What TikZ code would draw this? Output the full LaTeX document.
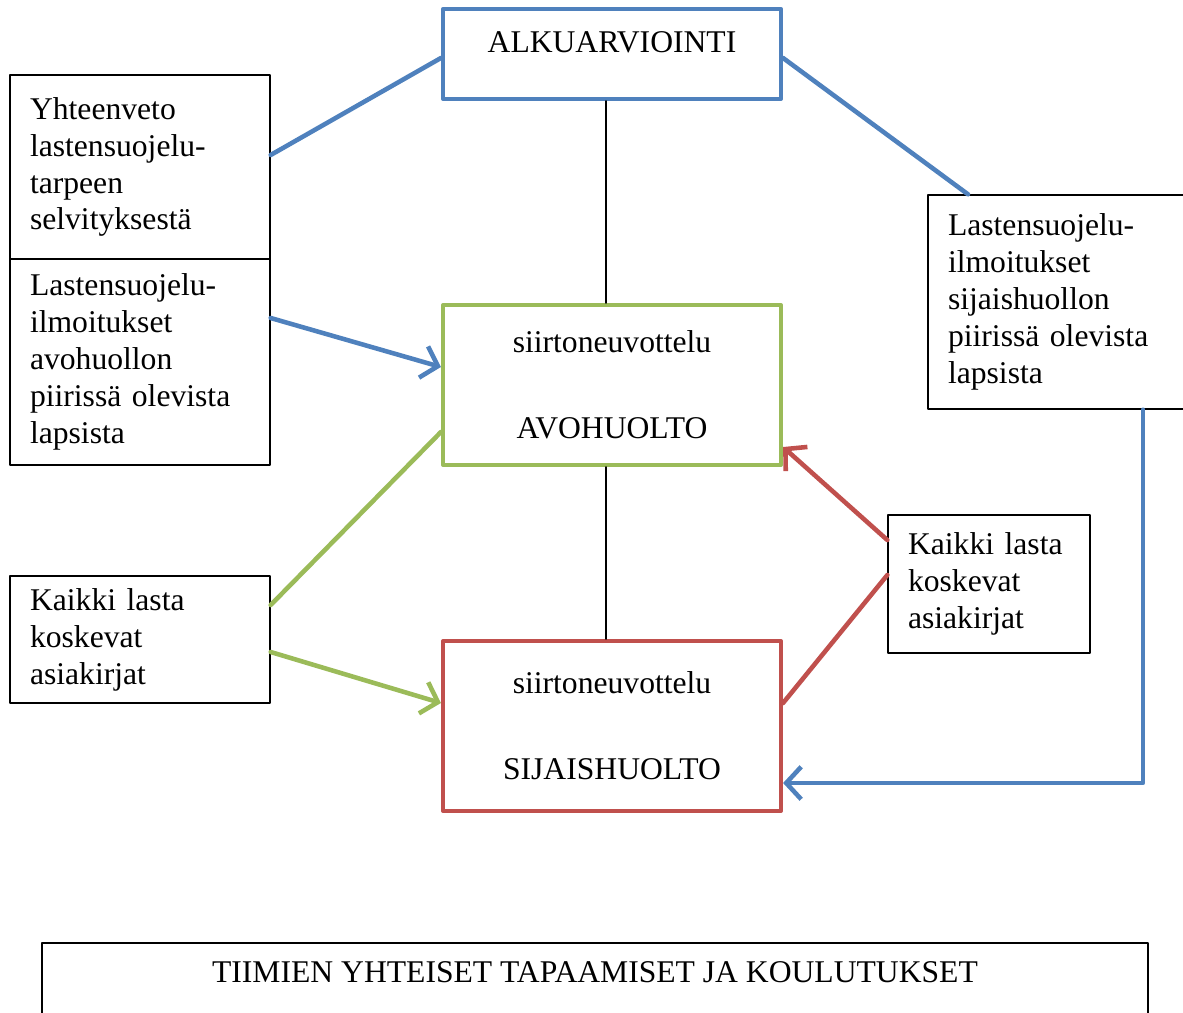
\documentclass[tikz,border=0pt]{standalone}
\usepackage{fontspec}
\setmainfont{Liberation Serif}
\usetikzlibrary{arrows.meta}
\definecolor{sininen}{HTML}{4F81BD}
\definecolor{vihrea}{HTML}{9BBB59}
\definecolor{punainen}{HTML}{C0504D}
\begin{document}
\begin{tikzpicture}[x=0.02cm, y=-0.02cm, font=\fontsize{18}{21}\selectfont, line join=round, line cap=round,
		>={Straight Barb[length=3mm,width=6.5mm]},
		laatikko/.style={draw, line width=0.8pt, inner xsep=0.4cm, align=left},
		kehys/.style={draw=#1, line width=2.4pt, minimum width=6.76cm, align=center},
		yhteys/.style={draw=#1, line width=2.6pt}]
				\useasboundingbox (0,0) rectangle (1183,1012);
				% paalaatikot
				\node[kehys=sininen, inner ysep=0pt, text height=0.86cm, text depth=0.94cm, anchor=base] (alku) at (612,52) {ALKUARVIOINTI};
				\node[kehys=vihrea, minimum height=3.2cm] (avo) at (612,385) {siirtoneuvottelu\\[28pt]AVOHUOLTO};
				\node[kehys=punainen, minimum height=3.4cm] (sij) at (612,726) {siirtoneuvottelu\\[28pt]SIJAISHUOLTO};
				
				% asiakirjat
				\node[laatikko, text width=4.4cm, minimum height=3.68cm] (yht) at (140,167) {Yhteenveto\\lastensuojelu-\\tarpeen\\selvityksestä};
				\node[laatikko, text width=4.4cm, minimum height=4.12cm] (avoilm) at (140,362) {Lastensuojelu-\\ilmoitukset\\avohuollon\\piirissä olevista\\lapsista};
				\node[laatikko, text width=4.34cm, minimum height=4.28cm] (sijilm) at (1056.5,302) {Lastensuojelu-\\ilmoitukset\\sijaishuollon\\piirissä olevista\\lapsista};
				\node[laatikko, text width=4.4cm, minimum height=2.54cm] (kaikL) at (140,639.5) {Kaikki lasta\\koskevat\\asiakirjat};
				\node[laatikko, text width=3.24cm, minimum height=2.76cm] (kaikR) at (989,584) {Kaikki lasta\\koskevat\\asiakirjat};
				
				\node[draw, line width=0.8pt, minimum width=22.12cm, inner ysep=0pt, text height=0.78cm, text depth=1.16cm, anchor=base] (tiimi) at (595,982) {TIIMIEN YHTEISET TAPAAMISET JA KOULUTUKSET};
				
				% yhteydet
				\draw[line width=1pt] (alku.south -| 606,0) -- (avo.north -| 606,0);
				\draw[line width=1pt] (avo.south -| 606,0) -- (sij.north -| 606,0);
				
				\draw[yhteys=sininen] (alku.west |- 0,58) -- (yht.east |- 0,155);
				\draw[yhteys=sininen] (alku.east |- 0,58) -- (sijilm.north -| 968,0);
				\draw[yhteys=sininen, ->] (avoilm.east |- 0,318) -- (avo.west |- 0,367);
				\draw[yhteys=sininen, ->] (sijilm.south -| 1143,0) |- (sij.east |- 0,783);
				
				\draw[yhteys=vihrea] (avo.west |- 0,432) -- (kaikL.east |- 0,605);
				\draw[yhteys=vihrea, ->] (kaikL.east |- 0,652) -- (sij.west |- 0,703);
				
				\draw[yhteys=punainen, ->] (kaikR.west |- 0,540) -- (avo.east |- 0,447);
				\draw[yhteys=punainen] (kaikR.west |- 0,575) -- (sij.east |- 0,703);
		\end{tikzpicture}
\end{document}
